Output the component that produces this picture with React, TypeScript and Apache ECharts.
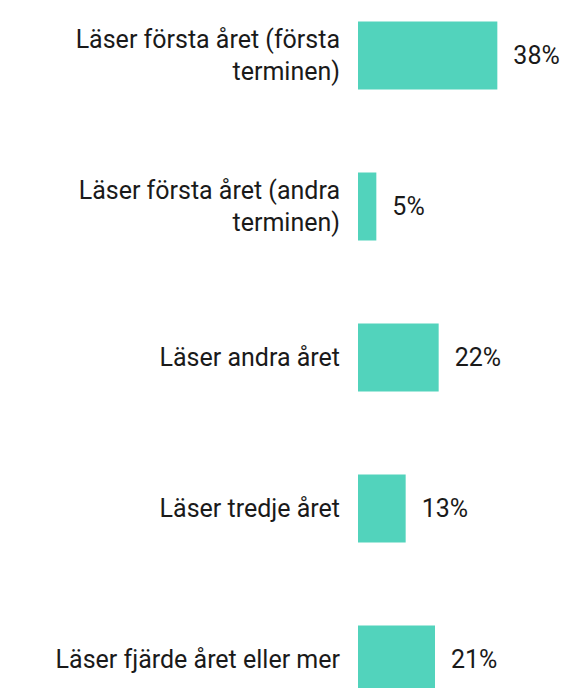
import React, { useEffect, useRef } from "react";
import * as echarts from "echarts";

const categories = [
  "Läser första året (första\nterminen)",
  "Läser första året (andra\nterminen)",
  "Läser andra året",
  "Läser tredje året",
  "Läser fjärde året eller mer",
];
const values = [38, 5, 22, 13, 21];

export default function App() {
  const ref = useRef<HTMLDivElement>(null);
  useEffect(() => {
    if (!ref.current) return;
    const chart = echarts.init(ref.current, undefined, { renderer: "svg" });
    chart.setOption({
      animation: false,
      textStyle: { fontFamily: "Roboto" },
      grid: { left: 358, right: 1, top: 0, bottom: 0, containLabel: false },
      xAxis: {
        type: "value",
        min: 0,
        max: 60,
        show: false,
      },
      yAxis: {
        type: "category",
        inverse: true,
        data: categories,
        axisLine: { show: false },
        axisTick: { show: false },
        splitLine: { show: false },
        axisLabel: {
          margin: 18,
          color: "#1a1a1a",
          fontSize: 25,
          lineHeight: 32,
          fontFamily: "Roboto",
          align: "right",
        },
      },
      series: [
        {
          type: "bar",
          data: values,
          barWidth: 68,
          itemStyle: { color: "#52D3BC" },
          label: {
            show: true,
            position: "right",
            distance: 16,
            formatter: "{c}%",
            color: "#1a1a1a",
            fontSize: 25,
            fontFamily: "Roboto",
          },
        },
      ],
    });
    return () => chart.dispose();
  }, []);
  return (
    <div style={{ width: 579, height: 688, position: "absolute", left: 0, top: 0, overflow: "hidden" }}>
      <div ref={ref} style={{ width: 579, height: 755, position: "absolute", left: 0, top: -20 }} />
    </div>
  );
}
